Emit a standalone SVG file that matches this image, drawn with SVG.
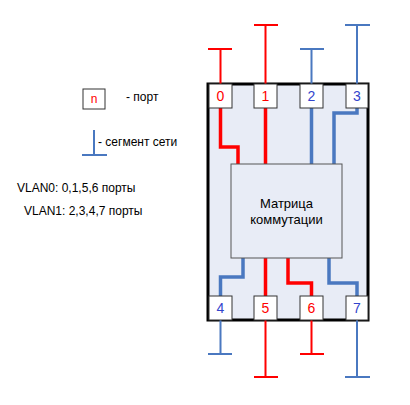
<svg xmlns="http://www.w3.org/2000/svg" width="410" height="405" viewBox="0 0 410 405">
<style>
text{font-family:"Liberation Sans",Arial,sans-serif}
.port rect{fill:#fff;stroke:#333;stroke-width:1}
.port text{font-size:14px;text-anchor:middle}
.r{stroke:#ff0000;fill:none}
.b{stroke:#4a78c0;fill:none}
.thin{stroke-width:2}
.thick{stroke-width:3.5}
.tr{fill:#ff0000}
.tb{fill:#3344cc}
.lbl{font-size:12px;fill:#000}
</style>
<rect width="410" height="405" fill="#fff"/>
<g id="switch">
<rect x="208" y="84" width="160" height="236" fill="#e8ecf6" stroke="#000" stroke-width="3"/>
</g>
<g id="connectors">
<path class="r thin" d="M220.5 84V49M208 49H232"/>
<path class="r thin" d="M265.5 84V25M254 25H278"/>
<path class="b thin" d="M311.5 84V49M300 49H324"/>
<path class="b thin" d="M357 84V25M345 25H370"/>
<path class="b thin" d="M220.5 320V354M208 354H232"/>
<path class="r thin" d="M265.5 320V377M254 377H278"/>
<path class="r thin" d="M311.5 320V354M300 354H324"/>
<path class="b thin" d="M357 320V377M345 377H370"/>
<path class="r thick" d="M220.5 108V147H238V164"/>
<path class="r thick" d="M265.5 108V164"/>
<path class="b thick" d="M311.5 108V164"/>
<path class="b thick" d="M357 108V113H334V164"/>
<path class="b thick" d="M243 258V277H220.5V296"/>
<path class="r thick" d="M265.5 258V296"/>
<path class="r thick" d="M288 258V283H311.5V296"/>
<path class="b thick" d="M329 258V283H357V296"/>
<path class="b thin" d="M94 130V155M82 155H107"/>
</g>
<g id="matrix">
<rect x="231" y="164" width="111" height="94" fill="#e8ecf6" stroke="#555" stroke-width="1"/>
<text x="286.5" y="208" font-size="13" text-anchor="middle">Матрица</text>
<text x="286.5" y="224" font-size="13" text-anchor="middle">коммутации</text>
</g>
<g id="port0" class="port"><rect x="209" y="84" width="23" height="24"/><text class="tr" x="220.5" y="101">0</text></g>
<g id="port1" class="port"><rect x="254" y="84" width="23" height="24"/><text class="tr" x="265.5" y="101">1</text></g>
<g id="port2" class="port"><rect x="300" y="84" width="23" height="24"/><text class="tb" x="311.5" y="101">2</text></g>
<g id="port3" class="port"><rect x="346" y="84" width="22" height="24"/><text class="tb" x="357" y="101">3</text></g>
<g id="port4" class="port"><rect x="209" y="296" width="23" height="24"/><text class="tb" x="220.5" y="313">4</text></g>
<g id="port5" class="port"><rect x="254" y="296" width="23" height="24"/><text class="tr" x="265.5" y="313">5</text></g>
<g id="port6" class="port"><rect x="300" y="296" width="23" height="24"/><text class="tr" x="311.5" y="313">6</text></g>
<g id="port7" class="port"><rect x="346" y="296" width="22" height="24"/><text class="tb" x="357" y="313">7</text></g>
<g id="legend-port" class="port"><rect x="83" y="89" width="22" height="20"/><text class="tr" x="94" y="103" style="font-size:12px">n</text></g>
<text class="lbl" x="126" y="101">- порт</text>
<text class="lbl" x="98" y="146">- сегмент сети</text>
<text class="lbl" x="17" y="192">VLAN0: 0,1,5,6 порты</text>
<text class="lbl" x="24" y="215">VLAN1: 2,3,4,7 порты</text>
</svg>
